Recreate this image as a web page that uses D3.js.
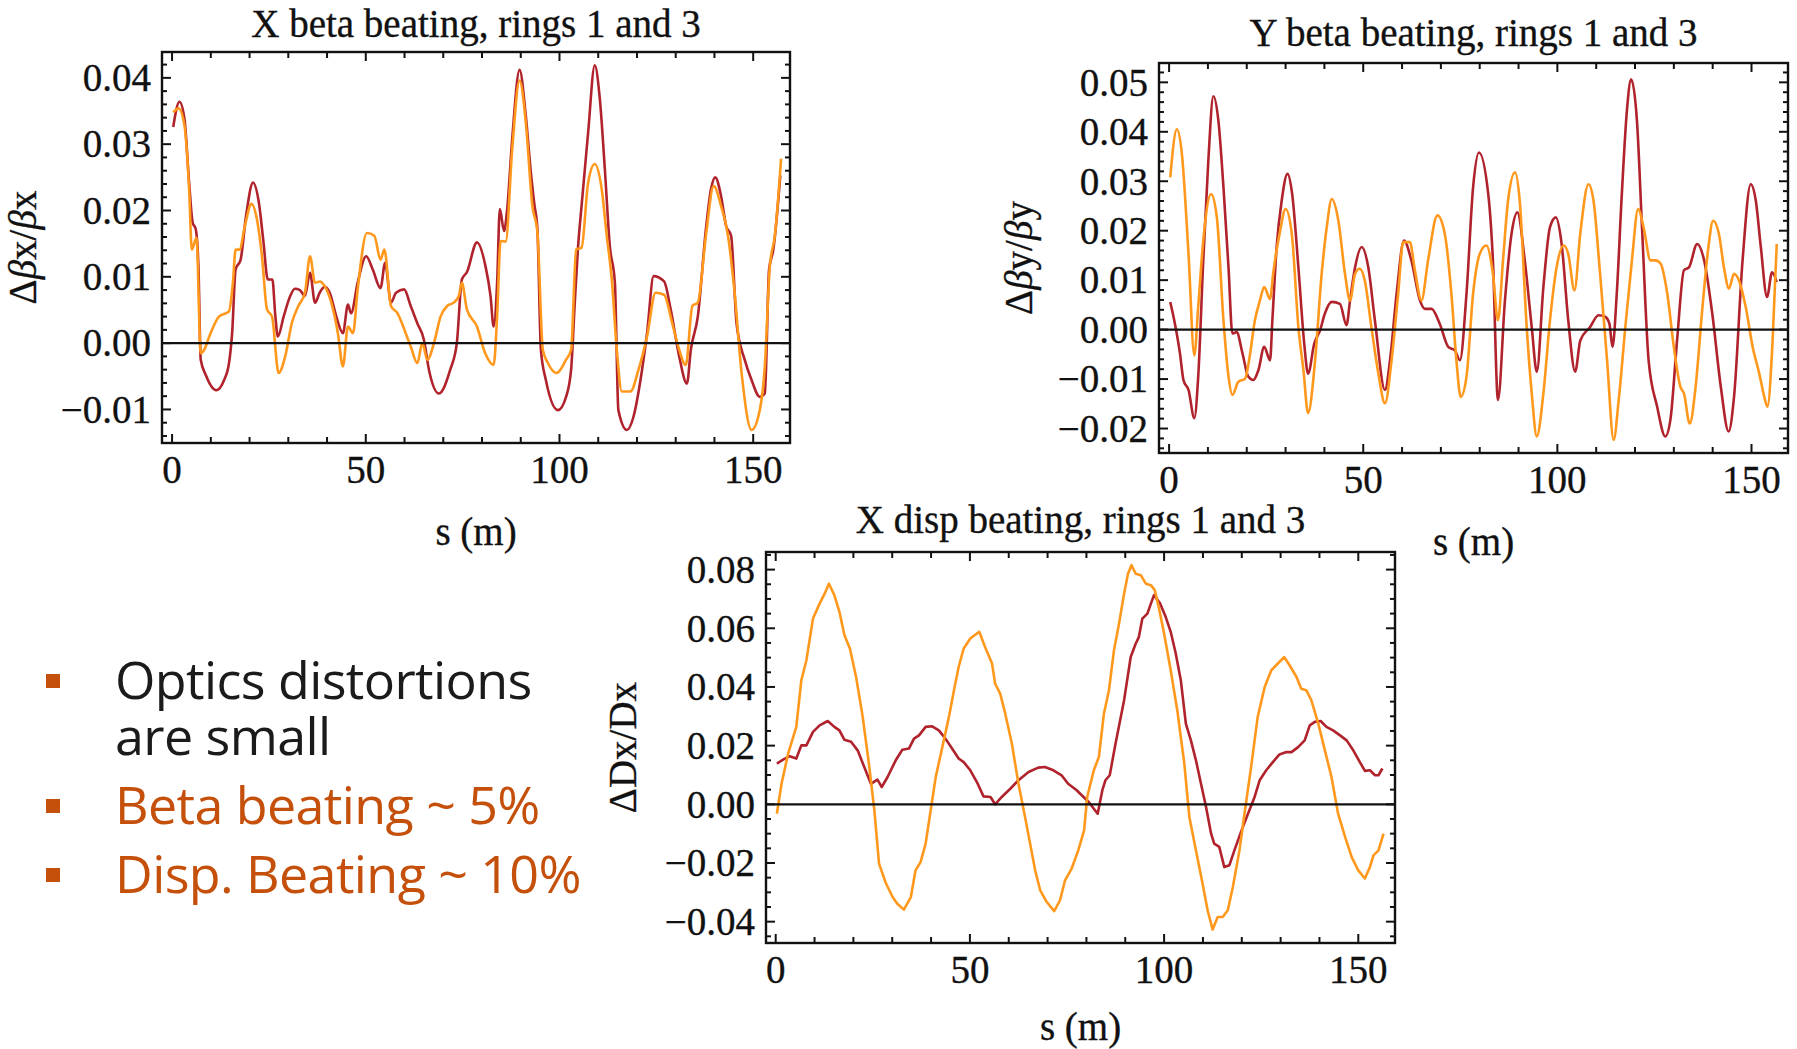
<!DOCTYPE html>
<html>
<head>
<meta charset="utf-8">
<script src="https://cdn.jsdelivr.net/npm/d3@7"></script>
<style>
  body { margin: 0; background: #fff; }
  svg { display: block; }
</style>
</head>
<body>
<div id="chart"></div>
<script>
// ---------------------------------------------------------------------------
// Data  (s in metres, relative beating)

// X beta beating, ring 1 (dark red) and ring 3 (orange)
const xBetaRing1 = [[0.3,0.0326],[1.9,0.0364],[3.2,0.0338],[4.4,0.0242],[5.3,0.0182],[6.1,0.0172],[6.8,0.0116],[7.4,-0.0025],[8.7,-0.0048],[11.4,-0.0071],[13.4,-0.0056],[14.7,-0.003],[15.5,0.0015],[16.4,0.0111],[17.7,0.0126],[19.1,0.0192],[20.9,0.0242],[22.4,0.0212],[23.6,0.0152],[24.7,0.0096],[25.9,0.0096],[26.6,0.0045],[27.3,0.001],[28.8,0.004],[30.5,0.0071],[31.7,0.0082],[33,0.008],[34.3,0.0071],[35.6,0.0106],[36.9,0.0061],[38.1,0.0076],[39.4,0.0085],[40.7,0.0076],[42.4,0.004],[44.1,0.0015],[45.4,0.0058],[46.2,0.0045],[47.9,0.0091],[50.1,0.0131],[51.8,0.0111],[53.8,0.0083],[55,0.0121],[56.5,0.0061],[57.8,0.0076],[59.9,0.0081],[61.6,0.0056],[63.3,0.003],[65,0.0005],[66.3,-0.004],[68.9,-0.0076],[71.8,-0.004],[73.5,0],[74.8,0.0096],[76.1,0.0107],[78.7,0.0152],[80.9,0.0116],[82.2,0.0071],[83,0.0025],[83.9,0.0091],[84.6,0.0202],[85.7,0.0169],[86.5,0.0202],[87.8,0.0308],[89.7,0.0412],[91.3,0.0343],[92.6,0.0258],[93.5,0.021],[94.3,0.0172],[95.2,-0.001],[96.5,-0.0056],[99.6,-0.0101],[101.7,-0.0081],[103,-0.004],[103.9,0.0056],[104.8,0.0146],[105.7,0.0207],[107.4,0.0318],[109.1,0.0419],[110.4,0.0369],[111.7,0.0263],[113,0.0146],[114.3,0.0091],[115.2,-0.0101],[117.4,-0.0131],[119.1,-0.0111],[120.9,-0.0056],[122.6,0.0015],[124.3,0.0101],[127,0.0093],[128.7,0.0051],[130.9,-0.002],[132.9,-0.0061],[133.9,-0.001],[135.7,0.004],[137.8,0.0172],[139.1,0.0232],[140.2,0.025],[141.7,0.0222],[143,0.0177],[144.3,0.0162],[145.7,0.003],[147.8,-0.0025],[149.6,-0.0056],[151.7,-0.0081],[153,-0.0076],[154.1,0.0111],[155.2,0.0141],[157,0.0253]];
const xBetaRing3 = [[0.3,0.0348],[1.7,0.0354],[3.2,0.0328],[4.4,0.0232],[5.1,0.0141],[6.3,0.0159],[7.4,-0.0015],[8.3,-0.001],[9.6,0.001],[12.1,0.004],[14.7,0.0048],[15.7,0.0091],[16.4,0.0141],[17.4,0.0141],[18.8,0.0177],[20.5,0.021],[21.9,0.0187],[23.2,0.0131],[24.5,0.0051],[25.8,0.004],[27.5,-0.0045],[29.2,-0.002],[30.9,0.003],[32.6,0.0056],[34.3,0.0076],[35.6,0.0131],[36.9,0.0091],[38.1,0.0093],[39.4,0.0086],[41.1,0.0061],[42.8,0.0015],[44.1,-0.0035],[45.4,0.0025],[46.7,0.0015],[47.9,0.0081],[50.3,0.0166],[52.2,0.0162],[53.8,0.0126],[54.8,0.0141],[56.5,0.0056],[58.2,0.0045],[60.3,0.0015],[61.6,-0.0005],[63.3,-0.003],[64.6,0],[65.9,-0.0025],[67.6,0],[69.3,0.004],[71,0.0056],[72.7,0.0061],[74,0.0071],[74.8,0.0091],[76.1,0.0051],[78.7,0.0025],[80.8,-0.0015],[83,-0.0033],[83.9,0.004],[84.8,0.0154],[86.1,0.0153],[87.8,0.0293],[89.7,0.0396],[91.3,0.0333],[93,0.0207],[94.3,0.0167],[95.7,-0.001],[97,-0.003],[99.3,-0.0045],[101.7,-0.0025],[103,-0.001],[104.3,0.0141],[105.7,0.0144],[107.4,0.0242],[109.1,0.027],[110.9,0.0232],[112.2,0.0162],[113.5,0.0096],[114.8,-0.001],[116.1,-0.0073],[118.3,-0.0073],[120.4,-0.004],[122.6,0.001],[124.8,0.0076],[127,0.0073],[129.1,0.003],[130.9,-0.001],[132.6,-0.0033],[134.3,0.0056],[135.7,0.0061],[137.8,0.0162],[139.8,0.0237],[141.7,0.0207],[143.5,0.0162],[145.2,0.0076],[147,-0.0045],[149.6,-0.0131],[151.7,-0.0101],[153,-0.0035],[154.3,0.0116],[155.6,0.0162],[157.2,0.0278]];

// Y beta beating
const yBetaRing1 = [[0.3,0.0056],[1.5,0.0012],[2.8,-0.0048],[3.7,-0.0102],[5,-0.0122],[6.5,-0.0179],[7.5,-0.0095],[8.8,0.014],[10.1,0.0341],[11.4,0.0472],[12.7,0.0422],[14,0.0288],[15.3,0.0126],[16.3,-0.0008],[17.4,-0.0005],[18.9,-0.0048],[20.4,-0.0095],[21.7,-0.0102],[23,-0.0082],[24.5,-0.0035],[26,-0.0062],[26.6,0.0019],[27.7,0.0167],[29,0.0261],[30.5,0.0315],[31.7,0.0274],[33.3,0.0126],[34.8,-0.0028],[35.8,-0.0089],[37.4,-0.0028],[38.9,-0.0001],[40.1,0.0032],[41.9,0.0056],[44,0.0052],[45.7,0.0009],[46.6,0.0059],[47.9,0.0126],[49.6,0.0167],[51.3,0.0126],[53,0.0019],[55.6,-0.0122],[56.9,-0.0062],[58.6,0.0073],[60.5,0.018],[62.4,0.014],[64.6,0.0059],[65.9,0.0042],[67.6,0.0042],[69.7,0.0012],[71.9,-0.0035],[73.6,-0.0042],[74.9,-0.0062],[76.6,0.0073],[78.3,0.0288],[79.8,0.0358],[82.2,0.0274],[83.4,0.014],[84.7,-0.0142],[86.5,0.0059],[88.2,0.0194],[89.7,0.0237],[91.6,0.014],[93.4,0.0005],[94.7,-0.0085],[96.4,0.0086],[98.1,0.0207],[99.6,0.0227],[101.1,0.0173],[102.8,0.0019],[104.6,-0.0085],[105.9,-0.0022],[108.4,0.0005],[110.6,0.0029],[112.3,0.0026],[113.4,0.0012],[114.2,-0.0035],[115.3,0.0073],[116.6,0.0274],[117.9,0.0442],[119,0.0506],[120.5,0.0422],[121.8,0.0207],[123.5,-0.0062],[125.7,-0.0156],[127.8,-0.0216],[129.1,-0.0183],[130.9,-0.0015],[132.6,0.012],[133.9,0.0126],[136,0.0173],[137.8,0.014],[139.9,0.0032],[142.1,-0.0116],[144.1,-0.0206],[145.5,-0.0136],[147.7,0.014],[149.8,0.0294],[151.1,0.0261],[152.4,0.0167],[154,0.0066],[155.3,0.0116],[156.5,0.0096]];
const yBetaRing3 = [[0.3,0.0308],[2,0.0405],[3.3,0.0355],[5,0.0153],[6.5,-0.0052],[7.5,0.0046],[8.8,0.018],[10.8,0.0274],[12.3,0.0227],[14,0.0019],[15.3,-0.0095],[16.3,-0.0132],[17.8,-0.0106],[19.6,-0.0099],[20.6,-0.0062],[22.1,0.0019],[23.4,0.0059],[24.5,0.0086],[26,0.0062],[26.8,0.0113],[28.6,0.02],[30,0.0244],[31.6,0.0194],[33.3,0.0005],[34.6,-0.0082],[35.8,-0.0169],[37.6,-0.0062],[39.3,0.0113],[40.6,0.0207],[41.9,0.0264],[43.6,0.022],[45.3,0.0113],[46.6,0.0059],[47.9,0.0113],[49.1,0.0123],[50.4,0.0099],[52.1,0.0005],[53.9,-0.0089],[55.6,-0.0149],[57.3,-0.0062],[59,0.0073],[60.3,0.0177],[62,0.0177],[63.3,0.012],[65,0.0059],[66.7,0.014],[69.1,0.0231],[71,0.0194],[72.7,0.0073],[74,-0.0062],[75.1,-0.0136],[76.6,-0.0095],[78.3,0.0073],[80,0.0153],[81.7,0.017],[83.4,0.0113],[84.7,0.0019],[86,0.014],[87.3,0.0261],[89.1,0.0318],[90.3,0.0261],[92.1,0.0005],[93.4,-0.0129],[94.7,-0.0216],[96.4,-0.0129],[98.1,0.0019],[99.8,0.0126],[101.6,0.017],[102.8,0.0153],[104.4,0.0079],[105.9,0.0194],[108,0.0294],[109.3,0.0261],[111,0.0113],[112.8,-0.0062],[114.5,-0.0223],[115.8,-0.0142],[117.5,0.0005],[119.2,0.014],[120.8,0.0244],[122.2,0.0207],[124,0.014],[125.3,0.014],[126.6,0.0133],[128.3,0.0073],[130,-0.0035],[131.7,-0.0116],[132.6,-0.0129],[134.1,-0.019],[135.6,-0.0116],[137.3,0.0039],[138.9,0.0167],[140.1,0.022],[141.6,0.0194],[142.9,0.0126],[144.2,0.0083],[145.5,0.0113],[146.8,0.0099],[148.5,0.0046],[150.3,-0.0035],[152,-0.0089],[153.3,-0.0136],[154.1,-0.0156],[155.4,-0.0028],[156.5,0.0173]];

// X dispersion beating
const xDispRing1 = [[0.3,0.0139],[1.9,0.0152],[3.6,0.0164],[5.3,0.0156],[6.6,0.0201],[7.9,0.0201],[9.6,0.0247],[11.3,0.0269],[13.4,0.0284],[15.1,0.0264],[16.4,0.0252],[17.7,0.022],[19.4,0.0213],[21.1,0.0184],[22.8,0.0127],[24.5,0.007],[26.2,0.0084],[27.3,0.0059],[28.8,0.0093],[30.9,0.015],[32.6,0.0186],[34.3,0.019],[35.6,0.0224],[36.9,0.0235],[38.6,0.0264],[40.3,0.0266],[42,0.0252],[43.7,0.0224],[45.4,0.019],[47.1,0.0156],[48.4,0.0144],[50.1,0.0116],[51.8,0.0076],[53.5,0.0027],[55.3,0.0025],[56.5,0],[58.2,0.0025],[60.4,0.0053],[62.5,0.0082],[65.1,0.011],[67.6,0.0125],[69.3,0.0127],[71.5,0.0116],[73.6,0.0099],[75.3,0.007],[77.5,0.0048],[78.4,0.0036],[80.6,0.0008],[81.9,-0.0015],[82.9,-0.0032],[84.1,0.0048],[84.9,0.0082],[86,0.0099],[87.5,0.0207],[89.7,0.0355],[91.4,0.0502],[92.7,0.0548],[93.5,0.057],[94.4,0.0633],[95.7,0.065],[96.6,0.0684],[97.4,0.0713],[99,0.0684],[100.4,0.0639],[101.7,0.0588],[103,0.0514],[104.3,0.0423],[105.6,0.0275],[106.9,0.0218],[108.2,0.015],[109.5,0.007],[110.8,-0.0009],[112.1,-0.01],[112.9,-0.0134],[114.2,-0.0145],[115.5,-0.0214],[116.8,-0.0208],[118.1,-0.0157],[119.8,-0.0094],[121.6,-0.0032],[123.3,0.0025],[124.6,0.0082],[126.3,0.0116],[128,0.0144],[129.7,0.017],[131.5,0.0178],[132.8,0.0178],[134.5,0.0195],[136.2,0.0218],[137.5,0.0269],[138.8,0.0281],[140.3,0.0284],[141.8,0.0264],[143.5,0.0252],[145.3,0.0235],[147,0.0218],[148.7,0.0184],[150.4,0.0144],[151.7,0.0114],[153,0.0116],[154.3,0.0099],[155.2,0.0099],[156.2,0.0122]];
const xDispRing3 = [[0.3,-0.0032],[1.5,0.007],[3.2,0.0173],[5.3,0.0264],[6.6,0.0423],[7.9,0.0491],[9.6,0.0633],[11.3,0.0684],[12.6,0.0718],[13.7,0.0752],[15.1,0.0713],[16.4,0.0656],[17.7,0.0576],[19.1,0.0531],[20.7,0.0434],[22.4,0.0298],[24.1,0.0127],[25.4,-0.002],[26.6,-0.0202],[28.4,-0.027],[30.1,-0.0316],[31.3,-0.0339],[33,-0.0359],[34.8,-0.0316],[36,-0.0225],[37.3,-0.0197],[38.6,-0.0134],[39.9,-0.002],[41.2,0.0093],[42.9,0.0195],[44.6,0.0298],[45.9,0.0389],[47.1,0.0468],[48.4,0.0531],[50.1,0.0565],[52.4,0.0588],[53.9,0.0536],[55.7,0.048],[56.5,0.0411],[57.8,0.0377],[59.1,0.0309],[60.8,0.0207],[62.5,0.007],[64.2,-0.0043],[65.5,-0.0134],[66.8,-0.0225],[68.1,-0.0293],[69.8,-0.0333],[71.7,-0.0364],[73.2,-0.0327],[74.5,-0.0259],[76.2,-0.0219],[77.9,-0.0157],[79.4,-0.0089],[80.2,0.0025],[81.9,0.0116],[83.2,0.0161],[84.5,0.0309],[85.8,0.0389],[87.1,0.0525],[88.4,0.0616],[89.7,0.0718],[90.7,0.0786],[91.6,0.0815],[92.7,0.0786],[94,0.0781],[95.3,0.0752],[96.6,0.0747],[97.6,0.073],[98.7,0.0667],[100,0.0582],[101.7,0.0457],[103.4,0.032],[105.2,0.0139],[106.5,-0.0043],[108.2,-0.0157],[109.9,-0.027],[111.2,-0.0361],[112.5,-0.0427],[113.8,-0.0384],[115.1,-0.0384],[116.4,-0.0361],[117.7,-0.0282],[119.4,-0.0157],[120.7,-0.0032],[122.4,0.0127],[124.1,0.0298],[125.9,0.04],[127.6,0.0457],[129.3,0.048],[130.9,0.0502],[132.3,0.0474],[134.1,0.0434],[135.3,0.0394],[136.6,0.0389],[137.9,0.0355],[139.7,0.0275],[141.4,0.0184],[143.1,0.0093],[144.8,-0.0032],[146.6,-0.0111],[148.3,-0.018],[150,-0.0225],[151.7,-0.0253],[153,-0.0214],[153.9,-0.0174],[155.2,-0.0157],[156.5,-0.01]];

// Tick values
const sTicks = [0, 50, 100, 150];
const xBetaTicks = [-0.01, 0, 0.01, 0.02, 0.03, 0.04];
const yBetaTicks = [-0.02, -0.01, 0, 0.01, 0.02, 0.03, 0.04, 0.05];
const xDispTicks = [-0.04, -0.02, 0, 0.02, 0.04, 0.06, 0.08];

// Bullet text on the left
const bulletLines = [
  { lines: ['Optics distortions', 'are small'], color: '#1b1b1b' },
  { lines: ['Beta beating ~ 5%'], color: '#c4500b' },
  { lines: ['Disp. Beating ~ 10%'], color: '#c4500b' }
];

// ---------------------------------------------------------------------------
// Layout

const W = 1797, H = 1049;
const ring1Color = '#b0232c';
const ring3Color = '#ff981c';
const serif = '"Liberation Serif", "Times New Roman", serif';

const panels = [
  {
    title: 'X beta beating, rings 1 and 3',
    yLabel: [['Δ', 'normal'], ['β', 'italic'], ['x', 'normal'], ['/', 'normal'], ['β', 'italic'], ['x', 'normal']],
    box: { left: 162, top: 52, right: 790, bottom: 443 },
    xDomain: [-2.6, 159.5], yDomain: [-0.01506, 0.0439],
    yTicks: xBetaTicks, yMinorStep: 0.002,
    curve: d3.curveMonotoneX,
    series: [xBetaRing1, xBetaRing3],
    titleY: 37, sLabelY: 545, yLabelX: 22
  },
  {
    title: 'Y beta beating, rings 1 and 3',
    yLabel: [['Δ', 'normal'], ['β', 'italic'], ['y', 'normal'], ['/', 'normal'], ['β', 'italic'], ['y', 'normal']],
    box: { left: 1159, top: 63, right: 1788, bottom: 453 },
    xDomain: [-2.6, 159.4], yDomain: [-0.02495, 0.05391],
    yTicks: yBetaTicks, yMinorStep: 0.002,
    curve: d3.curveMonotoneX,
    series: [yBetaRing1, yBetaRing3],
    titleY: 46, sLabelY: 555, yLabelX: 1018
  },
  {
    title: 'X disp beating, rings 1 and 3',
    yLabel: [['ΔDx/Dx', 'normal']],
    box: { left: 766, top: 552, right: 1395, bottom: 943 },
    xDomain: [-2.5, 159.45], yDomain: [-0.04727, 0.0860],
    yTicks: xDispTicks, yMinorStep: 0.005,
    curve: d3.curveLinear,
    series: [xDispRing1, xDispRing3],
    titleY: 533, sLabelY: 1040, yLabelX: 622
  }
];

const svg = d3.select('#chart').append('svg')
  .attr('width', W)
  .attr('height', H)
  .style('background', '#fff');

const fmt = (v) => {
  let s = d3.format('.2f')(Math.abs(v));
  return v < 0 ? '\u2212' + s : s;
};

// shared text style for the Mathematica-like labels
const serifText = (sel) => sel
  .style('font-family', serif)
  .style('font-size', '39px')
  .attr('fill', '#111')
  .attr('stroke', '#111')
  .attr('stroke-width', 0.35);

// ---------------------------------------------------------------------------
// Panels

panels.forEach((p) => {
  const b = p.box;
  const x = d3.scaleLinear().domain(p.xDomain).range([b.left, b.right]);
  const y = d3.scaleLinear().domain(p.yDomain).range([b.bottom, b.top]);
  const g = svg.append('g');

  const clipId = 'clip' + b.left;
  g.append('clipPath').attr('id', clipId)
    .append('rect')
    .attr('x', b.left).attr('y', b.top)
    .attr('width', b.right - b.left).attr('height', b.bottom - b.top);

  // data lines, ring 1 under ring 3
  const line = d3.line()
    .x((d) => x(d[0]))
    .y((d) => y(d[1]))
    .curve(p.curve);
  const colors = [ring1Color, ring3Color];
  p.series.forEach((data, i) => {
    g.append('path')
      .datum(data)
      .attr('clip-path', `url(#${clipId})`)
      .attr('fill', 'none')
      .attr('stroke', colors[i])
      .attr('stroke-width', 2.6)
      .attr('stroke-linejoin', 'round')
      .attr('d', line);
  });

  // zero axis
  g.append('line')
    .attr('x1', b.left).attr('x2', b.right)
    .attr('y1', y(0)).attr('y2', y(0))
    .attr('stroke', '#111').attr('stroke-width', 2.3);

  // frame
  g.append('rect')
    .attr('x', b.left).attr('y', b.top)
    .attr('width', b.right - b.left).attr('height', b.bottom - b.top)
    .attr('fill', 'none').attr('stroke', '#111').attr('stroke-width', 2.4);

  // s ticks (top and bottom, pointing in)
  const sMinor = d3.range(0, p.xDomain[1], 10);
  sMinor.forEach((s) => {
    const len = sTicks.includes(s) ? 9 : 6;
    [[b.bottom, -1], [b.top, 1]].forEach(([y0, dir]) => {
      g.append('line')
        .attr('x1', x(s)).attr('x2', x(s))
        .attr('y1', y0).attr('y2', y0 + dir * len)
        .attr('stroke', '#111').attr('stroke-width', 2);
    });
  });

  // value ticks (left and right)
  const yMin = Math.ceil(p.yDomain[0] / p.yMinorStep - 1e-6);
  const yMax = Math.floor(p.yDomain[1] / p.yMinorStep + 1e-6);
  d3.range(yMin, yMax + 1).forEach((k) => {
    const v = k * p.yMinorStep;
    const major = p.yTicks.some((t) => Math.abs(t - v) < 1e-9);
    const len = major ? 9 : 5;
    [[b.left, 1], [b.right, -1]].forEach(([x0, dir]) => {
      g.append('line')
        .attr('x1', x0).attr('x2', x0 + dir * len)
        .attr('y1', y(v)).attr('y2', y(v))
        .attr('stroke', '#111').attr('stroke-width', 2);
    });
  });

  // tick labels
  g.selectAll('.sLabel')
    .data(sTicks)
    .enter().append('text')
    .attr('x', (d) => x(d))
    .attr('y', b.bottom + 40)
    .attr('text-anchor', 'middle')
    .call(serifText)
    .text((d) => d);

  g.selectAll('.vLabel')
    .data(p.yTicks)
    .enter().append('text')
    .attr('x', b.left - 11)
    .attr('y', (d) => y(d))
    .attr('dy', '0.34em')
    .attr('text-anchor', 'end')
    .call(serifText)
    .text(fmt);

  // title
  g.append('text')
    .attr('x', (b.left + b.right) / 2)
    .attr('y', p.titleY)
    .attr('text-anchor', 'middle')
    .call(serifText)
    .text(p.title);

  // axis label s (m)
  g.append('text')
    .attr('x', (b.left + b.right) / 2)
    .attr('y', p.sLabelY)
    .attr('text-anchor', 'middle')
    .call(serifText)
    .text('s (m)');

  // vertical label
  const yl = g.append('text')
    .attr('transform', `translate(${p.yLabelX},${(b.top + b.bottom) / 2}) rotate(-90)`)
    .attr('dy', '0.35em')
    .attr('text-anchor', 'middle')
    .call(serifText);
  p.yLabel.forEach(([t, st]) => {
    yl.append('tspan').style('font-style', st).text(t);
  });
});

// ---------------------------------------------------------------------------
// Bullets

const bulletBaselines = [[699, 755], [824], [893]];
bulletLines.forEach((item, i) => {
  const base = bulletBaselines[i];
  svg.append('rect')
    .attr('x', 46)
    .attr('y', base[0] - 25)
    .attr('width', 14)
    .attr('height', 14)
    .attr('fill', '#c4500b');
  item.lines.forEach((t, j) => {
    svg.append('text')
      .attr('x', 115)
      .attr('y', base[j])
      .style('font-family', '"Open Sans", Lato, sans-serif')
      .style('font-size', '52px')
      .style('letter-spacing', '-0.6px')
      .attr('fill', item.color)
      .text(t);
  });
});
</script>
</body>
</html>
